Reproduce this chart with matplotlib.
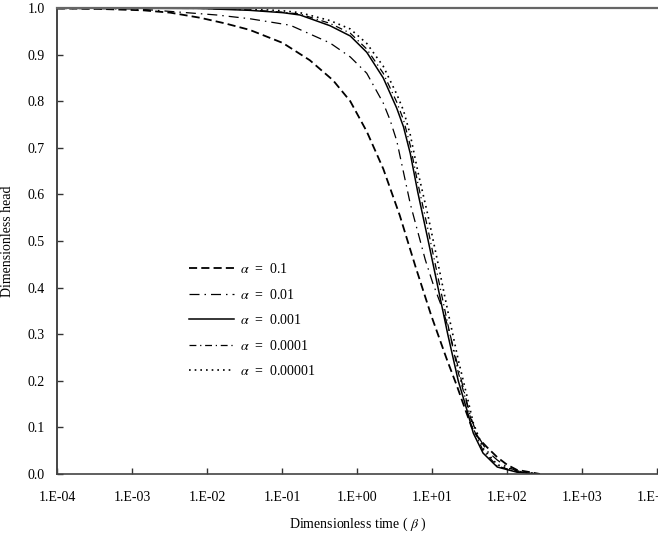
import matplotlib
matplotlib.use("Agg")
import matplotlib.pyplot as plt
import numpy as np

# ---------------------------------------------------------------------------
# Data (time given as log10 of dimensionless time)
# ---------------------------------------------------------------------------

LOGT_A1 = [-4.0, -3.43, -2.85, -2.49, -2.09, -1.76, -1.43, -0.99, -0.63, -0.32,
           -0.09, 0.13, 0.35, 0.57, 0.78, 0.99, 1.20, 1.33, 1.44, 1.53, 1.63,
           1.73, 1.87, 2.00, 2.13, 2.44]
HEAD_A1 = [0.999, 0.998, 0.995, 0.990, 0.979, 0.967, 0.953, 0.925, 0.888, 0.845,
           0.800, 0.735, 0.655, 0.555, 0.445, 0.340, 0.245, 0.190, 0.140, 0.100,
           0.075, 0.058, 0.036, 0.020, 0.009, 0.0]

LOGT_A2 = [-4.0, -3.0, -2.76, -1.87, -1.43, -0.89, -0.36, -0.09, 0.13, 0.35,
           0.44, 0.53, 0.61, 0.71, 0.81, 0.91, 1.01, 1.15, 1.24, 1.37, 1.51,
           1.60, 1.73, 1.87, 2.00, 2.13, 2.40]
HEAD_A2 = [0.999, 0.998, 0.996, 0.985, 0.977, 0.963, 0.925, 0.895, 0.860, 0.796,
           0.760, 0.715, 0.655, 0.580, 0.520, 0.460, 0.410, 0.350, 0.300, 0.215,
           0.125, 0.085, 0.050, 0.030, 0.015, 0.007, 0.0]

LOGT_A3 = [-4.0, -2.09, -1.43, -0.99, -0.76, -0.36, -0.09, 0.13, 0.35, 0.53,
           0.62, 0.71, 0.81, 0.95, 1.08, 1.21, 1.35, 1.47, 1.55, 1.68, 1.87,
           2.13, 2.40]
HEAD_A3 = [1.0, 0.999, 0.995, 0.990, 0.985, 0.962, 0.940, 0.905, 0.850, 0.785,
           0.745, 0.688, 0.605, 0.500, 0.400, 0.300, 0.200, 0.135, 0.088, 0.045,
           0.015, 0.004, 0.0]

LOGT_A4 = [-4.0, -2.09, -1.43, -0.99, -0.76, -0.36, -0.09, 0.13, 0.35, 0.53,
           0.62, 0.71, 0.81, 0.95, 1.08, 1.21, 1.35, 1.47, 1.55, 1.68, 1.87,
           2.13, 2.40]
HEAD_A4 = [1.0, 0.999, 0.996, 0.991, 0.987, 0.967, 0.946, 0.912, 0.860, 0.798,
           0.760, 0.705, 0.625, 0.522, 0.422, 0.322, 0.218, 0.148, 0.098, 0.050,
           0.017, 0.005, 0.0]

LOGT_A5 = [-4.0, -2.09, -1.43, -0.99, -0.76, -0.36, -0.09, 0.13, 0.35, 0.53,
           0.62, 0.71, 0.81, 0.95, 1.08, 1.21, 1.35, 1.47, 1.55, 1.68, 1.87,
           2.13, 2.40]
HEAD_A5 = [1.0, 1.0, 0.998, 0.994, 0.990, 0.973, 0.955, 0.924, 0.875, 0.815,
           0.780, 0.728, 0.650, 0.552, 0.452, 0.350, 0.245, 0.165, 0.110, 0.055,
           0.020, 0.006, 0.0]

LABELS = [r"$\alpha$  =  0.1", r"$\alpha$  =  0.01", r"$\alpha$  =  0.001",
          r"$\alpha$  =  0.0001", r"$\alpha$  =  0.00001"]

X_TICKS = [1e-4, 1e-3, 1e-2, 1e-1, 1e0, 1e1, 1e2, 1e3, 1e4]
X_TICKLABELS = ["1.E-04", "1.E-03", "1.E-02", "1.E-01", "1.E+00",
                "1.E+01", "1.E+02", "1.E+03", "1.E+04"]
Y_TICKS = [0.0, 0.1, 0.2, 0.3, 0.4, 0.5, 0.6, 0.7, 0.8, 0.9, 1.0]

# ---------------------------------------------------------------------------
# Figure
# ---------------------------------------------------------------------------

plt.rcParams.update({
    "font.family": ["Liberation Serif", "DejaVu Serif"],
    "mathtext.fontset": "stix",
    "font.size": 10,
})

W, H = 658, 544
fig = plt.figure(figsize=(W / 100, H / 100), dpi=100)
ax = fig.add_axes([57 / W, 70 / H, 600 / W, 466 / H])

styles = [
    dict(ls=(0, (4.5, 2.3)), lw=1.3),
    dict(ls=(0, (8, 4, 1.2, 4)), lw=0.9),
    dict(ls="-", lw=1.1),
    dict(ls=(0, (5.5, 3, 1, 3)), lw=0.9),
    dict(ls=(0, (1, 2.4)), lw=1.2),
]
series = [(LOGT_A1, HEAD_A1), (LOGT_A2, HEAD_A2), (LOGT_A3, HEAD_A3),
          (LOGT_A4, HEAD_A4), (LOGT_A5, HEAD_A5)]

for (lt, hd), st, lab in zip(series, styles, LABELS):
    ax.plot(np.power(10.0, lt), hd, color="black", label=lab, **st)

ax.set_xscale("log")
ax.set_xlim(1e-4, 1e4)
ax.set_ylim(0.0, 1.0)
ax.set_xticks(X_TICKS)
ax.set_xticklabels(X_TICKLABELS)
ax.minorticks_off()
ax.set_yticks(Y_TICKS)
ax.set_yticklabels([f"{v:.1f}" for v in Y_TICKS])
ax.tick_params(axis="both", direction="in", length=4, width=1, labelsize=10,
               color="#333333")
ax.tick_params(axis="x", pad=12)
ax.tick_params(axis="y", pad=9)

ax.spines["right"].set_visible(False)
ax.spines["top"].set_color("#666666")
ax.spines["top"].set_linewidth(1.6)
ax.spines["left"].set_color("#444444")
ax.spines["left"].set_linewidth(1.4)
ax.spines["bottom"].set_color("#444444")
ax.spines["bottom"].set_linewidth(1.2)

fig.text(358 / W, 1 - 524 / H, r"Dimensionless time ( $\beta$ )",
         ha="center", va="center", fontsize=10)
fig.text(8 / W, 1 - 241 / H, "Dimensionless head", rotation=90,
         ha="center", va="center", fontsize=10)

ax.legend(loc="upper left", bbox_to_anchor=(189 / W, 1 - 262 / H),
          bbox_transform=fig.transFigure, frameon=False, borderpad=0,
          borderaxespad=0, handlelength=3.25, handletextpad=0.45,
          labelspacing=0.83, fontsize=10)

fig.savefig("out.png", dpi=100)
